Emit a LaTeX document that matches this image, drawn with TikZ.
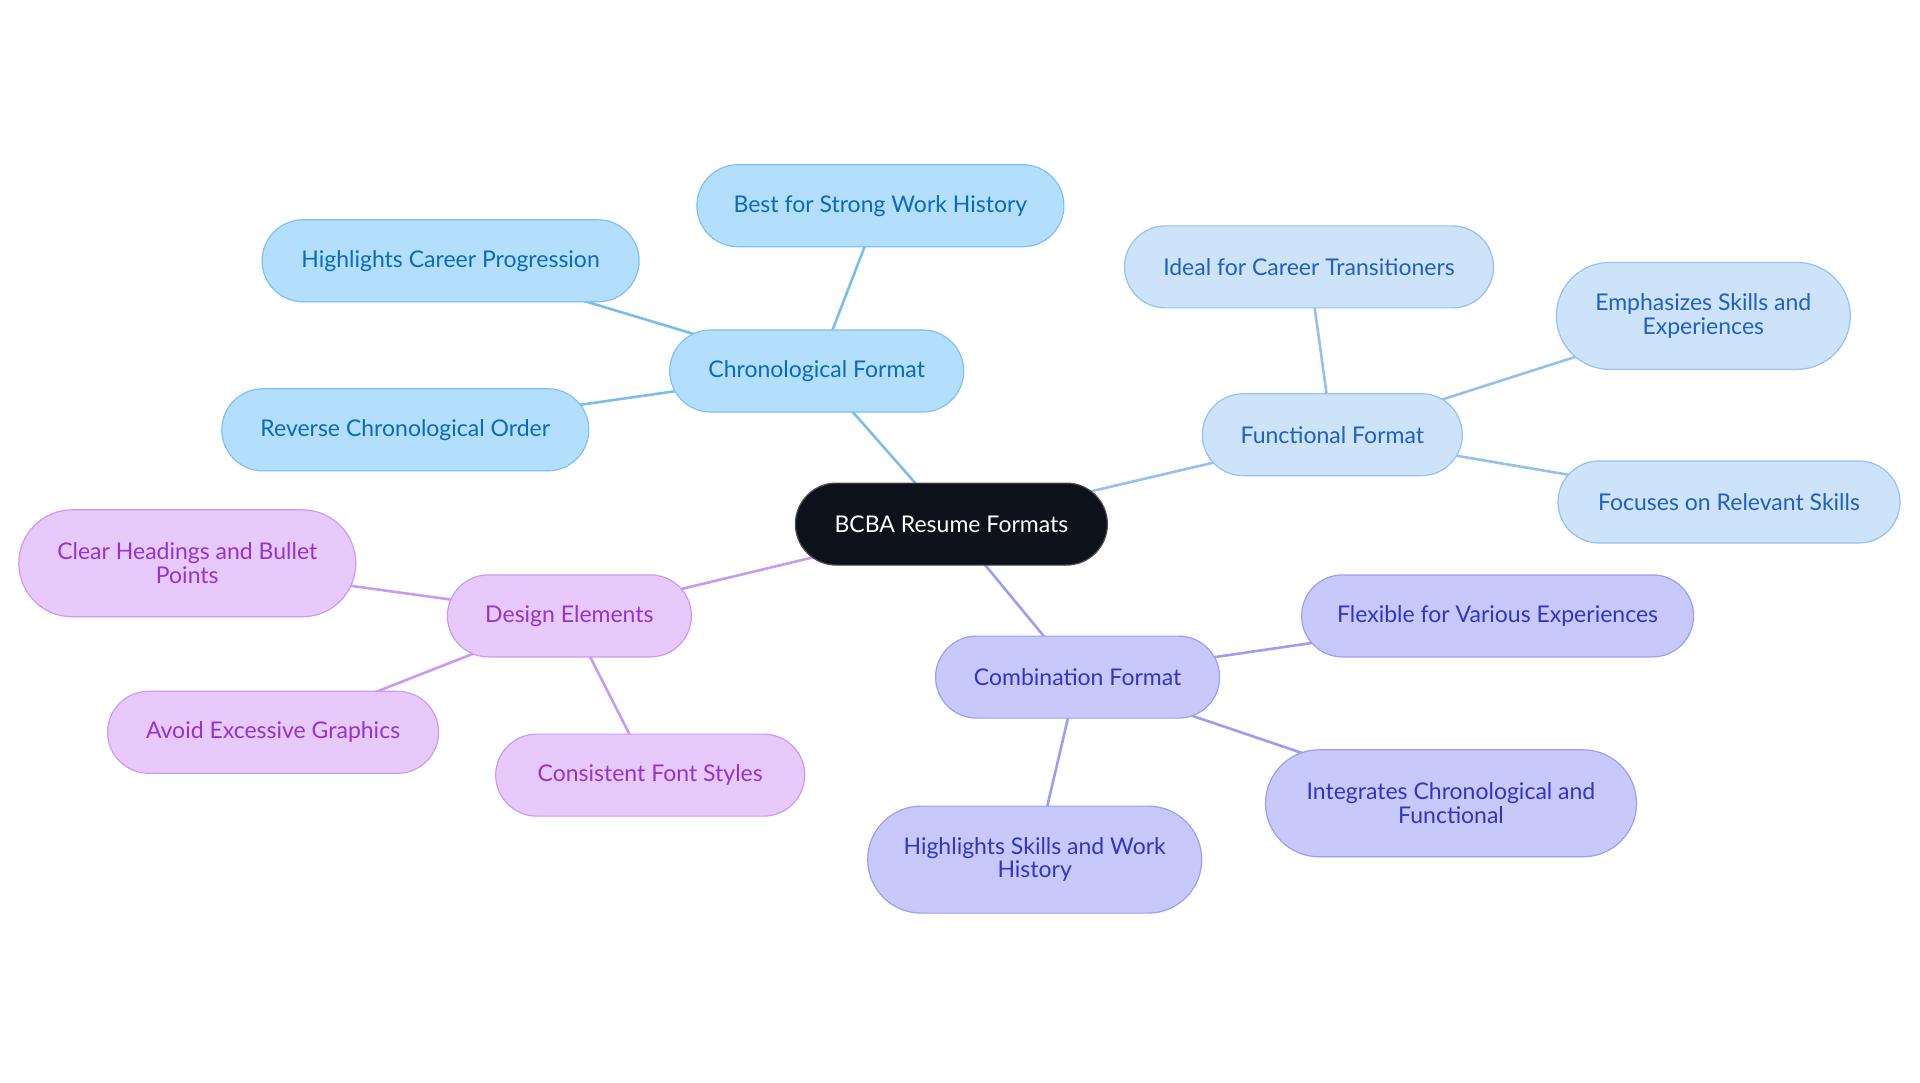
\documentclass[tikz,border=0pt]{standalone}
\usepackage{fontspec}
\setmainfont{Lato}
\usetikzlibrary{shapes.misc,backgrounds}
\definecolor{cfill}{HTML}{0C111A}
\definecolor{chrfill}{HTML}{B3DFFD}
\definecolor{chrdraw}{HTML}{7DC2F2}
\definecolor{chrtext}{HTML}{0A6ABF}
\definecolor{chredge}{HTML}{7DBDEC}
\definecolor{funfill}{HTML}{CCE3FA}
\definecolor{fundraw}{HTML}{95C2F0}
\definecolor{funtext}{HTML}{1F5FC7}
\definecolor{funedge}{HTML}{95C0F0}
\definecolor{comfill}{HTML}{C7C9FB}
\definecolor{comdraw}{HTML}{9C9FF0}
\definecolor{comtext}{HTML}{3333CC}
\definecolor{comedge}{HTML}{9C9FF0}
\definecolor{desfill}{HTML}{E8C9FC}
\definecolor{desdraw}{HTML}{CC9AF0}
\definecolor{destext}{HTML}{9333D6}
\definecolor{desedge}{HTML}{C99AF0}
\tikzset{
  pill/.style={rounded rectangle, line width=1.2pt, minimum height=82pt, inner sep=0pt, align=center, font=\fontsize{23}{23.5}\selectfont, yshift=0pt},
  tall/.style={minimum height=107pt},
  rootnode/.style={pill, fill=cfill, draw=black!70, text=white},
  chrnode/.style={pill, fill=chrfill, draw=chrdraw, text=chrtext},
  funnode/.style={pill, fill=funfill, draw=fundraw, text=funtext},
  comnode/.style={pill, fill=comfill, draw=comdraw, text=comtext},
  desnode/.style={pill, fill=desfill, draw=desdraw, text=destext},
  link/.style={line width=2.6pt}
}
\begin{document}
\begin{tikzpicture}[x=1pt,y=-1pt]
\useasboundingbox (0,0) rectangle (1920,1083);
\node[rootnode, minimum width=312pt] (root) at (951.4,524.1) {BCBA Resume Formats};
% Chronological
\node[chrnode, minimum width=294pt] (chr) at (816.7,371.0) {Chronological Format};
\node[chrnode, minimum width=367pt] (best) at (880.4,205.7) {Best for Strong Work History};
\node[chrnode, minimum width=377pt] (hcp) at (450.6,260.8) {Highlights Career Progression};
\node[chrnode, minimum width=367pt] (rev) at (405.3,429.8) {Reverse Chronological Order};
% Functional
\node[funnode, minimum width=260pt] (fun) at (1332.3,434.7) {Functional Format};
\node[funnode, minimum width=369pt] (ideal) at (1309.0,266.9) {Ideal for Career Transitioners};
\node[funnode, tall, minimum width=294pt] (emph) at (1703.3,315.9) {Emphasizes Skills and\\Experiences};
\node[funnode, minimum width=342pt] (foc) at (1729.0,502.0) {Focuses on Relevant Skills};
% Combination
\node[comnode, minimum width=284pt] (com) at (1077.6,677.1) {Combination Format};
\node[comnode, minimum width=392pt] (flex) at (1497.6,615.9) {Flexible for Various Experiences};
\node[comnode, tall, minimum width=371pt] (integ) at (1451.0,803.3) {Integrates Chronological and\\Functional};
\node[comnode, tall, minimum width=334pt] (hsw) at (1034.7,859.6) {Highlights Skills and Work\\History};
% Design
\node[desnode, minimum width=244pt] (des) at (569.4,615.9) {Design Elements};
\node[desnode, tall, minimum width=337pt] (clear) at (187.3,563.3) {Clear Headings and Bullet\\Points};
\node[desnode, minimum width=331pt] (avoid) at (273.1,732.3) {Avoid Excessive Graphics};
\node[desnode, minimum width=309pt] (cons) at (650.2,775.1) {Consistent Font Styles};
\begin{scope}[on background layer]
\draw[link, chredge] (root.center) -- (chr.center);
\draw[link, chredge] (chr.center) -- (best.center);
\draw[link, chredge] (chr.center) -- (hcp.center);
\draw[link, chredge] (chr.center) -- (rev.center);
\draw[link, funedge] (root.center) -- (fun.center);
\draw[link, funedge] (fun.center) -- (ideal.center);
\draw[link, funedge] (fun.center) -- (emph.center);
\draw[link, funedge] (fun.center) -- (foc.center);
\draw[link, comedge] (root.center) -- (com.center);
\draw[link, comedge] (com.center) -- (flex.center);
\draw[link, comedge] (com.center) -- (integ.center);
\draw[link, comedge] (com.center) -- (hsw.center);
\draw[link, desedge] (root.center) -- (des.center);
\draw[link, desedge] (des.center) -- (clear.center);
\draw[link, desedge] (des.center) -- (avoid.center);
\draw[link, desedge] (des.center) -- (cons.center);
\end{scope}
\end{tikzpicture}
\end{document}
